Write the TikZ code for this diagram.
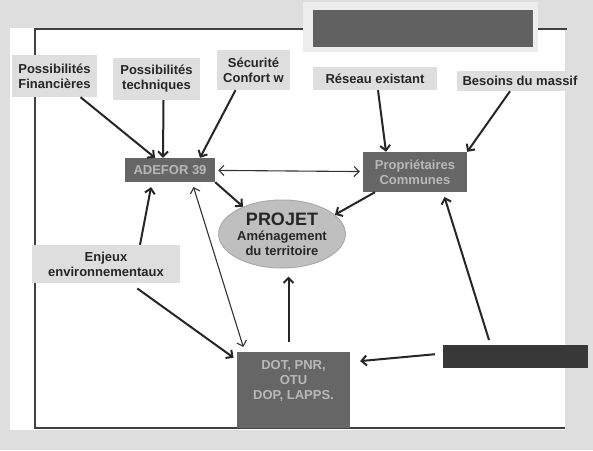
\documentclass[tikz,border=0pt]{standalone}
\usepackage{fontspec}
\setmainfont{Liberation Sans}
\usetikzlibrary{shapes.geometric,arrows.meta}

\begin{document}
\begin{tikzpicture}
[every node/.style={inner sep=0pt, align=center, font=\bfseries\fontsize{13}{15}\selectfont},
 light/.style={rectangle, fill=black!13, text=black!85},
 dark/.style={rectangle, fill=black!60, text=black!28},
 link/.style={line width=2pt, ->, color=black!85},
 thin link/.style={line width=1.1pt, <->, color=black!80},
 >={Straight Barb[length=5pt,width=10pt]}]
\useasboundingbox (0pt,0pt) rectangle (593pt,-450pt);
% slide background and frame
\fill[black!13] (0pt,0pt) rectangle (593pt,-450pt);
\fill[white] (10pt,-28pt) rectangle (565pt,-430pt);
\draw[black!75, line width=1.2pt] (567pt,-29pt) -- (35pt,-29pt) -- (35pt,-428pt) -- (565pt,-428pt);
\node (frame) [rectangle, fill=black!7, minimum width=235pt, minimum height=50pt] at (420.5pt, -27pt) {};
\node (banner) [rectangle, fill=black!62, minimum width=220pt, minimum height=37pt] at (423pt, -28.5pt) {};
% boxes
\node (fin) [light, minimum width=85pt, minimum height=42pt] at (54.5pt, -76pt) {Possibilités\\Financières};
\node (tech) [light, minimum width=87pt, minimum height=42pt] at (156.5pt, -79pt) {Possibilités\\techniques};
\node (secu) [light, minimum width=73pt, minimum height=40pt] at (253.5pt, -70pt) {Sécurité\\Confort w};
\node (reseau) [light, minimum width=124pt, minimum height=23pt] at (375pt, -78.5pt) {Réseau existant};
\node (besoins) [light, minimum width=126pt, minimum height=20pt] at (520pt, -81pt) {Besoins du massif};
\node (adefor) [dark, minimum width=90pt, minimum height=24pt] at (170pt, -170pt) {ADEFOR 39};
\node (prop) [dark, minimum width=104pt, minimum height=40pt] at (415pt, -172pt) {Propriétaires\\Communes};
\node (projet) [ellipse, fill=black!25, draw=black!33, line width=1pt, minimum width=123pt, minimum height=68pt, text=black!85] at (282pt, -234pt) {{\fontsize{18}{20}\selectfont PROJET}\\Aménagement\\du territoire};
\node (enjeux) [light, minimum width=148pt, minimum height=38pt] at (106pt, -264pt) {Enjeux\\environnementaux};
\node (dot) [dark, minimum width=113pt, minimum height=76pt] at (293.5pt, -390pt) {DOT, PNR,\\OTU\\DOP, LAPPS.\\\strut};
\node (bar) [rectangle, fill=black!78, minimum width=145pt, minimum height=23pt] at (515.5pt, -356.5pt) {};
% arrows
\draw [link] (fin) -- (adefor);
\draw [link] ([xshift=7pt]tech.south) -- ([xshift=-7pt]adefor.north);
\draw [link] ([xshift=-18pt]secu.south) -- ([xshift=30pt]adefor.north);
\draw [link] ([xshift=3pt]reseau.south) -- ([xshift=-29pt]prop.north);
\draw [link] ([xshift=-10pt]besoins.south) -- (prop.north east);
\draw [thin link, shorten <=3pt, shorten >=3pt] (adefor) -- (prop);
\draw [link] (adefor.south east) -- (projet.145);
\draw [link] ([xshift=-40pt]prop.south) -- (projet.20);
\draw [link, shorten >=5pt] ([xshift=34pt]enjeux.north) -- ([xshift=-18pt]adefor.south);
\draw [link, shorten <=9pt, shorten >=4pt] ([xshift=24pt]enjeux.south) -- ([yshift=30pt]dot.west);
\draw [thin link, shorten <=5pt, shorten >=5pt] ([xshift=22pt]adefor.south) -- ([xshift=8pt]dot.north west);
\draw [link, shorten <=10pt, shorten >=8pt] ([xshift=-5pt]dot.north) -- ([xshift=-5pt]dot.north |- projet.south);
\draw [link, shorten <=8pt, shorten >=10pt] ([yshift=3pt]bar.west) -- ([yshift=28pt]dot.east);
\draw [link, shorten <=5pt, shorten >=5pt] ([xshift=-25pt]bar.north) -- ([xshift=28pt]prop.south);
\end{tikzpicture}
\end{document}
